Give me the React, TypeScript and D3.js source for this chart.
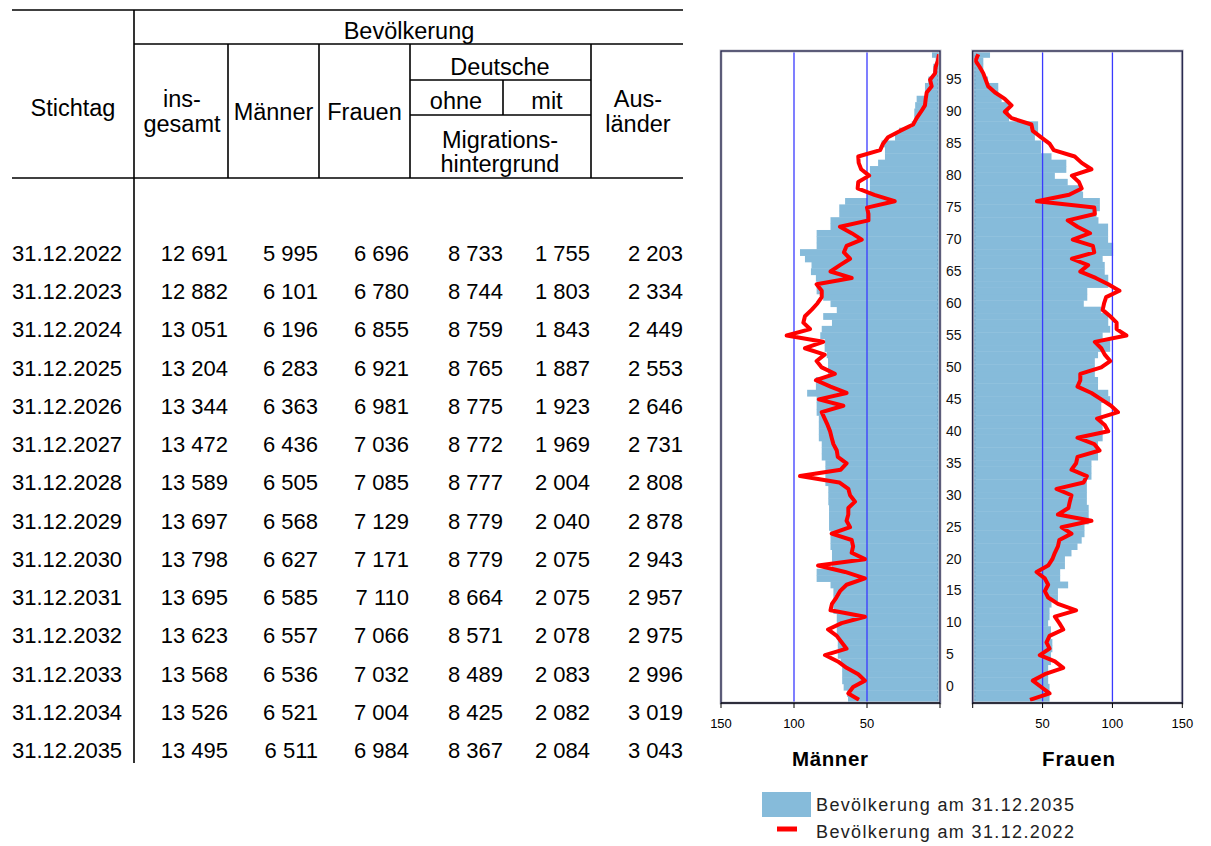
import React from "react";
import * as d3 from "d3";

// ---------- table data ----------
const stichtag = [
  "31.12.2022", "31.12.2023", "31.12.2024", "31.12.2025", "31.12.2026", "31.12.2027", "31.12.2028",
  "31.12.2029", "31.12.2030", "31.12.2031", "31.12.2032", "31.12.2033", "31.12.2034", "31.12.2035",
];
const insgesamt = [12691, 12882, 13051, 13204, 13344, 13472, 13589, 13697, 13798, 13695, 13623, 13568, 13526, 13495];
const maenner = [5995, 6101, 6196, 6283, 6363, 6436, 6505, 6568, 6627, 6585, 6557, 6536, 6521, 6511];
const frauen = [6696, 6780, 6855, 6921, 6981, 7036, 7085, 7129, 7171, 7110, 7066, 7032, 7004, 6984];
const ohneMigration = [8733, 8744, 8759, 8765, 8775, 8772, 8777, 8779, 8779, 8664, 8571, 8489, 8425, 8367];
const mitMigration = [1755, 1803, 1843, 1887, 1923, 1969, 2004, 2040, 2075, 2075, 2078, 2083, 2082, 2084];
const auslaender = [2203, 2334, 2449, 2553, 2646, 2731, 2808, 2878, 2943, 2957, 2975, 2996, 3019, 3043];

// ---------- pyramid data (rows from bottom to top, in 1000) ----------
const male2035 = [
  63, 63.5, 66, 67, 67, 67, 68, 70, 70, 70,
  70.7, 70.7, 70.7, 70.7, 73, 73, 73, 73, 75, 84.5,
  84.5, 74, 74, 74, 75, 75, 75, 76, 76, 76,
  76, 76.5, 76.5, 76.5, 78.5, 78.5, 78.5, 78.5, 81, 81,
  81, 83, 83, 83, 83, 84.5, 84.5, 84.5, 91, 85,
  85, 76.7, 76.7, 76.7, 77.6, 79, 79, 82, 81, 74,
  80, 70.7, 75, 80, 84.5, 84.5, 85, 88.4, 88, 92.5,
  95.9, 84.5, 84.5, 84.5, 75, 75, 69, 69, 65, 50,
  48, 48, 48, 48, 42.4, 37.7, 37.7, 40, 30.8, 28,
  19.4, 17.6, 17.6, 17, 16, 10.3, 10.3, 8, 4.6, 4.6,
  3, 5.5,
];
const male2022 = [
  55.5, 62.8, 59.5, 51.4, 56, 64, 70, 78.8, 64, 67.4,
  70.7, 76.7, 67.4, 51.4, 75, 74, 71, 68.5, 64, 51.4,
  65, 83.5, 51.4, 60.5, 59.5, 60.5, 74.2, 61.6, 64, 62.8,
  62.8, 58.2, 61.6, 62.8, 69, 95.9, 68, 64, 70, 70.7,
  73, 74.2, 75.3, 77, 79, 81, 66.2, 83, 64, 75,
  85, 72, 81, 84.5, 79, 92.5, 80, 105, 89, 93.6,
  92.5, 88, 84, 81, 81, 84.5, 60.5, 75, 68.5, 61.6,
  65.8, 64, 53.6, 60.5, 68.5, 49, 49, 50, 31, 45,
  56.4, 56, 48.5, 54, 55.7, 56, 41, 39, 35.6, 27.4,
  18.4, 16, 13, 10.3, 9.8, 9.1, 5.7, 6.8, 3.4, 3,
  1.4, 0.7,
];
const female2035 = [
  55, 55, 55, 54, 54, 54, 56, 56, 57, 57,
  56, 56, 54, 55, 55, 56.4, 61, 61, 68.3, 62.6,
  62.6, 66, 66, 70.7, 75, 78, 80, 80, 83, 83,
  83, 81.7, 81.7, 81.7, 81.7, 85, 85, 85, 89.7, 89.7,
  89.7, 93, 93, 93, 93, 92, 92, 98.4, 97, 89.7,
  89.7, 87.4, 87.4, 87.4, 89.7, 98.4, 98.4, 93, 98.4, 97,
  97, 92, 79.5, 82, 82, 97, 97, 94.5, 94.5, 93,
  100.5, 100.5, 96.9, 96.9, 96.9, 90, 88.6, 91, 91, 79,
  78, 68, 58.8, 67, 67, 56.4, 49, 49, 44.5, 46.8,
  46.8, 26, 26, 26, 20.7, 18.3, 18.3, 11, 7.6, 7.6,
  7.6, 12.4,
];
const female2022 = [
  41, 55, 49, 43, 51.6, 64.8, 58.8, 48, 55, 52.8,
  55, 64.8, 62, 58.8, 74, 61, 54, 51.6, 54, 51.6,
  45.7, 54, 57, 58.8, 61, 62, 70.7, 63.6, 85, 61,
  68.5, 69.5, 70.7, 60, 79.4, 81.7, 70.7, 74, 75, 90.8,
  87, 75, 97, 94.5, 89, 104, 99, 92, 85, 75,
  77, 77, 92, 98.4, 94.5, 92, 87.4, 110, 103, 103,
  98.4, 93, 94, 95.5, 105, 97, 88, 77, 82.6, 71,
  87, 86, 71.6, 84, 75, 68, 87.4, 87, 46, 69,
  78, 76, 71, 85, 78, 73, 58, 55, 49, 43,
  42, 27.8, 23, 27.8, 23, 16, 11, 9.3, 7.6, 5,
  2, 4,
];

const ageTicks = [0, 5, 10, 15, 20, 25, 30, 35, 40, 45, 50, 55, 60, 65, 70, 75, 80, 85, 90, 95];
const valueTicks = [150, 100, 50];
const gridValues = [100, 50];
const legendLabels = ["Bevölkerung am 31.12.2035", "Bevölkerung am 31.12.2022"];

const FONT = "'Liberation Sans', Arial, Helvetica, sans-serif";
const BAR = "#86bbda";
const RED = "#ff0000";
const GRID = "#3a3aff";
const FRAME = "#22224a";

const fmt = (n: number) => d3.format(",")(n).replace(/,/g, " ");

export default function App() {
  const rows = d3.range(male2035.length);
  const yAge = d3.scaleLinear().domain([0, rows.length]).range([703, 51]);
  const xL = d3.scaleLinear().domain([0, 150]).range([940, 721]);
  const xR = d3.scaleLinear().domain([0, 150]).range([972.7, 1182.3]);
  const rowY = d3.scalePoint<string>().domain(stichtag).range([253, 750]);

  const lineL = d3
    .line<number>()
    .x((v) => xL(v))
    .y((_, i) => yAge(i + 0.5));
  const lineR = d3
    .line<number>()
    .x((v) => xR(v))
    .y((_, i) => yAge(i + 0.5));

  const columns: { values: number[]; right: number }[] = [
    { values: insgesamt, right: 228 },
    { values: maenner, right: 318 },
    { values: frauen, right: 409 },
    { values: ohneMigration, right: 503 },
    { values: mitMigration, right: 590 },
    { values: auslaender, right: 683 },
  ];

  const hdr = 23.5;
  const lw = 1.6;

  const pyramid = (
    x: d3.ScaleLinear<number, number>,
    bars: number[],
    line: number[],
    lineGen: d3.Line<number>,
    key: string
  ) => {
    const x0 = x(0);
    const x150 = x(150);
    const left = Math.min(x0, x150);
    const width = Math.abs(x150 - x0);
    return (
      <g key={key}>
        <rect x={left} y={yAge(rows.length)} width={width} height={yAge(0) - yAge(rows.length)} fill="#fff" />
        {bars.map((v, i) => (
          <rect
            key={i}
            x={Math.min(x(v), x0)}
            y={yAge(i + 1)}
            width={Math.abs(x0 - x(v))}
            height={yAge(i) - yAge(i + 1) + 0.4}
            fill={BAR}
          />
        ))}
        <line
          x1={x(1.6)}
          x2={x(1.6)}
          y1={yAge(rows.length)}
          y2={yAge(0)}
          stroke="#5f93b8"
          strokeWidth={1}
          strokeDasharray="2,2"
          opacity={0.6}
        />
        {gridValues.map((g) => (
          <line key={g} x1={x(g)} x2={x(g)} y1={yAge(rows.length)} y2={yAge(0)} stroke={GRID} strokeWidth={1.3} />
        ))}
        <path d={lineGen(line) || ""} fill="none" stroke={RED} strokeWidth={4} strokeLinejoin="round" />
        <rect
          x={left}
          y={yAge(rows.length)}
          width={width}
          height={yAge(0) - yAge(rows.length)}
          fill="none"
          stroke="#c8c8d0"
          strokeWidth={3}
        />
        <rect
          x={left}
          y={yAge(rows.length)}
          width={width}
          height={yAge(0) - yAge(rows.length)}
          fill="none"
          stroke={FRAME}
          strokeWidth={1.3}
        />
        <line x1={left} x2={left + width} y1={yAge(0)} y2={yAge(0)} stroke="#000" strokeWidth={1.2} />
        {[0, 50, 100, 150].map((t) => (
          <line key={t} x1={x(t)} x2={x(t)} y1={yAge(0)} y2={yAge(0) + 5} stroke="#000" strokeWidth={1} />
        ))}
        {valueTicks.map((t) => (
          <text key={t} x={x(t)} y={yAge(0) + 25} textAnchor="middle" fontSize={13} fontFamily={FONT} fill="#000">
            {t}
          </text>
        ))}
      </g>
    );
  };

  return (
    <svg
      width={1211}
      height={846}
      style={{ position: "absolute", left: 0, top: 0, background: "#fff" }}
      fontFamily={FONT}
    >
      <rect x={0} y={0} width={1211} height={846} fill="#fff" />

      {/* ---------- table ---------- */}
      <g stroke="#000" strokeWidth={lw}>
        <line x1={12} x2={683} y1={10} y2={10} />
        <line x1={134} x2={134} y1={10} y2={763} />
        <line x1={134} x2={683} y1={44} y2={44} />
        {[228, 319, 410, 591].map((xv) => (
          <line key={xv} x1={xv} x2={xv} y1={44} y2={178} />
        ))}
        <line x1={410} x2={591} y1={80} y2={80} />
        <line x1={410} x2={591} y1={115} y2={115} />
        <line x1={503} x2={503} y1={80} y2={115} />
        <line x1={12} x2={683} y1={178} y2={178} />
      </g>
      <g fontSize={hdr} fill="#000" textAnchor="middle">
        <text x={409} y={39}>Bevölkerung</text>
        <text x={73} y={116}>Stichtag</text>
        <text x={182} y={107}>ins-</text>
        <text x={182} y={132}>gesamt</text>
        <text x={273.5} y={120}>Männer</text>
        <text x={364.5} y={120}>Frauen</text>
        <text x={500} y={75}>Deutsche</text>
        <text x={456} y={109}>ohne</text>
        <text x={547} y={109}>mit</text>
        <text x={500} y={148}>Migrations-</text>
        <text x={500} y={172}>hintergrund</text>
        <text x={638} y={107}>Aus-</text>
        <text x={638} y={132}>länder</text>
      </g>
      <g fontSize={22} fill="#000">
        {stichtag.map((s) => (
          <text key={s} x={12} y={(rowY(s) || 0) + 8}>
            {s}
          </text>
        ))}
        {columns.map((c, ci) =>
          c.values.map((v, i) => (
            <text key={ci + "-" + i} x={c.right} y={(rowY(stichtag[i]) || 0) + 8} textAnchor="end">
              {fmt(v)}
            </text>
          ))
        )}
      </g>

      {/* ---------- pyramid ---------- */}
      {pyramid(xL, male2035, male2022, lineL, "m")}
      {pyramid(xR, female2035, female2022, lineR, "f")}

      <g fontSize={14} fill="#111">
        {ageTicks.map((a) => (
          <text key={a} x={946} y={yAge(a + 2.6) + 5}>
            {a}
          </text>
        ))}
      </g>

      <text x={792} y={766} fontSize={20.5} fontWeight="bold" textLength={76} lengthAdjust="spacing">
        Männer
      </text>
      <text x={1042} y={766} fontSize={20.5} fontWeight="bold" textLength={73} lengthAdjust="spacing">
        Frauen
      </text>

      {/* ---------- legend ---------- */}
      <rect x={762} y={792} width={49} height={25} fill={BAR} />
      <line x1={777} x2={797} y1={829} y2={829} stroke={RED} strokeWidth={5} />
      <text x={816} y={811} fontSize={18} fill="#222" textLength={258} lengthAdjust="spacing">
        {legendLabels[0]}
      </text>
      <text x={816} y={838} fontSize={18} fill="#222" textLength={258} lengthAdjust="spacing">
        {legendLabels[1]}
      </text>
    </svg>
  );
}
